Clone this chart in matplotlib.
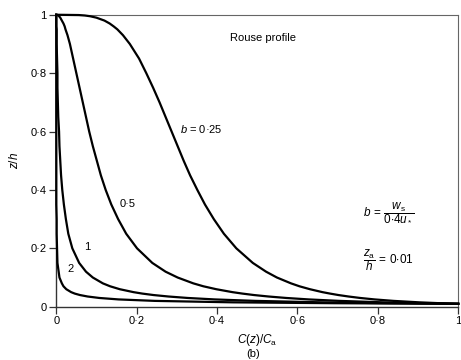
import matplotlib
matplotlib.use("Agg")
import matplotlib.pyplot as plt
from matplotlib.ticker import FixedLocator, FuncFormatter

plt.rcParams['font.family'] = ['Liberation Sans', 'DejaVu Sans']
plt.rcParams['mathtext.fontset'] = 'custom'
plt.rcParams['mathtext.rm'] = 'Liberation Sans'
plt.rcParams['mathtext.it'] = 'Liberation Sans:italic'
plt.rcParams['mathtext.bf'] = 'Liberation Sans:bold'

# Relative height above the bed, z/h (reference level z_a/h = 0.01)
z_h = [0.01, 0.012, 0.015, 0.02, 0.025, 0.03, 0.035, 0.04, 0.045, 0.05,
       0.06, 0.07, 0.08, 0.1, 0.12, 0.15, 0.2, 0.25, 0.3, 0.35, 0.4, 0.45,
       0.5, 0.55, 0.6, 0.65, 0.7, 0.75, 0.8, 0.85, 0.9, 0.93, 0.95, 0.96,
       0.97, 0.98, 0.99, 0.995, 0.9975, 0.999, 1.0]

# Relative concentration C(z)/C_a for each Rouse number b
conc_b025 = [1.0, 0.955, 0.903, 0.839, 0.792, 0.756, 0.727, 0.702, 0.681,
             0.662, 0.631, 0.605, 0.584, 0.549, 0.522, 0.489, 0.448, 0.417,
             0.392, 0.370, 0.351, 0.333, 0.317, 0.302, 0.287, 0.272, 0.257,
             0.241, 0.224, 0.206, 0.183, 0.166, 0.152, 0.143, 0.133, 0.120,
             0.100, 0.084, 0.071, 0.056, 0.0]
conc_b05 = [1.0, 0.912, 0.814, 0.704, 0.628, 0.572, 0.528, 0.492, 0.463,
            0.438, 0.398, 0.366, 0.341, 0.302, 0.272, 0.239, 0.201, 0.174,
            0.154, 0.137, 0.123, 0.111, 0.101, 0.091, 0.082, 0.074, 0.066,
            0.058, 0.050, 0.042, 0.034, 0.028, 0.023, 0.021, 0.018, 0.014,
            0.010, 0.007, 0.005, 0.003, 0.0]
conc_b1 = [1.0, 0.832, 0.663, 0.495, 0.394, 0.327, 0.279, 0.242, 0.214,
           0.192, 0.158, 0.134, 0.116, 0.091, 0.074, 0.057, 0.040, 0.030,
           0.024, 0.019, 0.015, 0.012, 0.010, 0.008, 0.007, 0.005, 0.004,
           0.003, 0.003, 0.002, 0.001, 0.001, 0.001, 0.0, 0.0, 0.0,
           0.0, 0.0, 0.0, 0.0, 0.0]
conc_b2 = [1.0, 0.692, 0.440, 0.245, 0.155, 0.107, 0.078, 0.059, 0.046,
           0.037, 0.025, 0.018, 0.014, 0.008, 0.006, 0.003, 0.002, 0.001,
           0.001, 0.0, 0.0, 0.0, 0.0, 0.0, 0.0, 0.0, 0.0,
           0.0, 0.0, 0.0, 0.0, 0.0, 0.0, 0.0, 0.0, 0.0,
           0.0, 0.0, 0.0, 0.0, 0.0]

ticks = [0, 0.2, 0.4, 0.6, 0.8, 1]


def dot_fmt(v, pos):
    if abs(v) < 1e-9:
        return '0'
    if abs(v - 1) < 1e-9:
        return '1'
    return f'{v:.1f}'.replace('.', '\u00b7')


fig = plt.figure(figsize=(4.61, 3.6), dpi=100)
ax = fig.add_axes([0.122, 0.148, 0.872, 0.811])

for conc in (conc_b025, conc_b05, conc_b1, conc_b2):
    ax.plot(conc, z_h, color='black', lw=1.6, clip_on=False, zorder=3,
            solid_joinstyle='round')

ax.set_xlim(0, 1)
ax.set_ylim(0, 1)
ax.xaxis.set_major_locator(FixedLocator(ticks))
ax.yaxis.set_major_locator(FixedLocator(ticks))
ax.xaxis.set_major_formatter(FuncFormatter(dot_fmt))
ax.yaxis.set_major_formatter(FuncFormatter(dot_fmt))
ax.tick_params(direction='out', length=5, width=0.9, labelsize=8,
               color='#333333', pad=2)

for side in ('left', 'bottom'):
    ax.spines[side].set_color('#333333')
    ax.spines[side].set_linewidth(1.0)
for side in ('top', 'right'):
    ax.spines[side].set_color('#666666')
    ax.spines[side].set_linewidth(0.8)

ax.set_xlabel(r'$C(z)/C_\mathrm{a}$', fontsize=8.5, labelpad=4)
ax.set_ylabel(r'$z/h$', fontsize=8.5, labelpad=7)

ax.text(0.431, 0.92, 'Rouse profile', fontsize=8, va='center', ha='left')
ax.text(0.307, 0.61, r'$b$ = 0·25', fontsize=8, va='center', ha='left')
ax.text(0.158, 0.353, '0·5', fontsize=8, va='center', ha='left')
ax.text(0.07, 0.205, '1', fontsize=8, va='center', ha='left')
ax.text(0.028, 0.13, '2', fontsize=8, va='center', ha='left')
ax.text(0.762, 0.325, r'$b\,=\,\dfrac{w_\mathrm{s}}{0{\cdot}4u_*}$',
        fontsize=8.5, va='center', ha='left')
ax.text(0.762, 0.16, r'$\dfrac{z_\mathrm{a}}{h}\,=\,0{\cdot}01$',
        fontsize=8.5, va='center', ha='left')

fig.text(0.549, 0.003, '(b)', fontsize=8, ha='center', va='bottom')

fig.savefig('out.png', dpi=100)
